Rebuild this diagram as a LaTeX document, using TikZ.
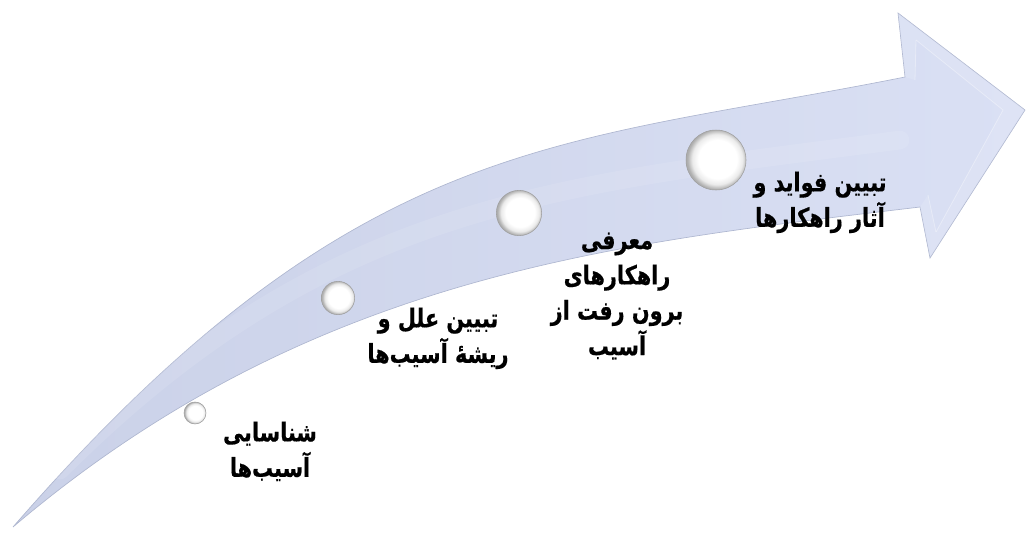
\documentclass[tikz,border=0pt]{standalone}
\usepackage{fontspec}
\usepackage{graphicx}
\newfontfamily\arabicfont[Script=Arabic, BoldFeatures={FakeBold=0.6}]{DejaVu Sans}
\TeXXeTstate=1
\definecolor{bandfill}{RGB}{218,224,244}
\definecolor{banddark}{RGB}{202,209,232}
\definecolor{bandedge}{RGB}{175,183,208}
\pgfdeclareradialshading{sph}{\pgfpoint{2bp}{1bp}}{color(0bp)=(white); color(16bp)=(white); color(21bp)=(black!8); color(25bp)=(black!32); color(50bp)=(black!32)}
\newcommand{\rlines}[1]{\scalebox{0.8}[1]{\begin{tabular}{@{}c@{}}#1\end{tabular}}}
\begin{document}
\begin{tikzpicture}[x=0.75pt,y=-0.75pt,
  lbl/.style={font=\arabicfont\bfseries\fontsize{19.5}{26.5}\selectfont, text=black, inner sep=0pt},
  ball/.style={circle, draw=black!38, line width=0.4pt, inner sep=0pt, shading=sph}]
\useasboundingbox (0,0) rectangle (1027,533);
% arrow body
\path[left color=banddark, right color=bandfill, draw=bandedge, line width=0.5pt]
  (13,527) .. controls (358,130) and (560,146) .. (905,77)
  -- (898,13) -- (1025,110) -- (930,258) -- (920,207)
  .. controls (620,243) and (313,272) .. (13,527) -- cycle;
% bevel of the head
\path[fill=white, opacity=0.12] (905,77) -- (898,13) -- (1025,110) -- (930,258) -- (920,207)
  -- (928,195) -- (936,232) -- (1003,110) -- (916,40) -- (915,80) -- cycle;
\draw[white, opacity=0.35, line width=0.6pt] (916,40) -- (1003,110) -- (936,232);
\draw[white, opacity=0.35, line width=0.6pt] (916,40) -- (915,80);
\draw[white, opacity=0.35, line width=0.6pt] (936,232) -- (928,195);
% soft highlight along the band
\draw[white, opacity=0.10, line width=14pt, line cap=round]
  (60,470) .. controls (330,200) and (560,185) .. (900,140);
% spheres
\node[ball, minimum size=16.5pt] (b1) at (195,413) {};
\node[ball, minimum size=25pt] (b2) at (338,298) {};
\node[ball, minimum size=34pt] (b3) at (519,213) {};
\node[ball, minimum size=45pt] (b4) at (716,160) {};
% labels
\node[lbl] (t1) at (270,452) {\rlines{\beginR شناسایی\endR\\\beginR آسیب‌ها\endR}};
\node[lbl] (t2) at (438,338) {\rlines{\beginR تبیین علل و\endR\\\beginR ریشهٔ آسیب‌ها\endR}};
\node[lbl] (t3) at (617,295) {\rlines{\beginR معرفی\endR\\\beginR راهکارهای\endR\\\beginR برون رفت از\endR\\\beginR آسیب\endR}};
\node[lbl] (t4) at (820,202) {\rlines{\beginR تبیین فواید و\endR\\\beginR آثار راهکارها\endR}};
\end{tikzpicture}
\end{document}
